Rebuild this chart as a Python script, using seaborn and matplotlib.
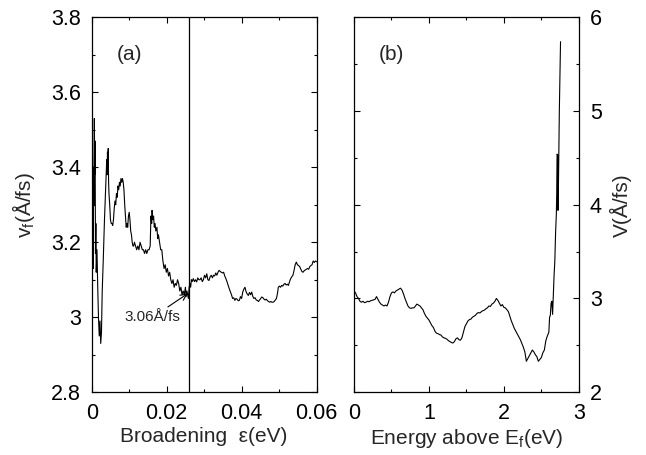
import numpy as np
import pandas as pd
import seaborn as sns
import matplotlib.pyplot as plt
from matplotlib.ticker import MultipleLocator, FormatStrFormatter

# panel (a): Fermi velocity vs broadening
eps_a = [0.0000, 0.0001, 0.0002, 0.0003, 0.0004, 0.0005, 0.0006, 0.0007, 0.0008, 0.0009,
         0.0010, 0.0011, 0.0012, 0.0014, 0.0016, 0.0018, 0.0020, 0.0022, 0.0024, 0.0026,
         0.0028, 0.0031, 0.0034, 0.0037, 0.0040, 0.0041, 0.0042, 0.0043, 0.0044, 0.0045,
         0.0046, 0.0048, 0.0050, 0.0052, 0.0054, 0.0056, 0.0058, 0.0060, 0.0062, 0.0064,
         0.0066, 0.0068, 0.0070, 0.0072, 0.0074, 0.0076, 0.0078, 0.0080, 0.0082, 0.0084,
         0.0086, 0.0088, 0.0090, 0.0092, 0.0094, 0.0096, 0.0098, 0.0100, 0.0102, 0.0104,
         0.0106, 0.0108, 0.0110, 0.0112, 0.0114, 0.0117, 0.0120, 0.0123, 0.0126, 0.0129,
         0.0132, 0.0135, 0.0138, 0.0141, 0.0144, 0.0147, 0.0150, 0.0153, 0.0156, 0.0158,
         0.0160, 0.0161, 0.0163, 0.0165, 0.0167, 0.0169, 0.0171, 0.0174, 0.0176, 0.0178,
         0.0181, 0.0184, 0.0187, 0.0190, 0.0193, 0.0196, 0.0199, 0.0202, 0.0205, 0.0208,
         0.0211, 0.0214, 0.0217, 0.0220, 0.0223, 0.0226, 0.0229, 0.0232, 0.0235, 0.0238,
         0.0241, 0.0244, 0.0247, 0.0250, 0.0252, 0.0254, 0.0256, 0.0258, 0.0260, 0.0262,
         0.0264, 0.0266, 0.0268, 0.0271, 0.0274, 0.0277, 0.0280, 0.0283, 0.0286, 0.0289,
         0.0292, 0.0295, 0.0298, 0.0301, 0.0304, 0.0307, 0.0310, 0.0313, 0.0316, 0.0319,
         0.0322, 0.0325, 0.0328, 0.0331, 0.0334, 0.0337, 0.0340, 0.0343, 0.0346, 0.0349,
         0.0352, 0.0355, 0.0358, 0.0361, 0.0364, 0.0367, 0.0370, 0.0373, 0.0376, 0.0379,
         0.0382, 0.0385, 0.0388, 0.0391, 0.0394, 0.0397, 0.0400, 0.0403, 0.0406, 0.0409,
         0.0412, 0.0415, 0.0418, 0.0421, 0.0424, 0.0427, 0.0430, 0.0433, 0.0436, 0.0439,
         0.0442, 0.0445, 0.0448, 0.0451, 0.0454, 0.0457, 0.0460, 0.0463, 0.0466, 0.0469,
         0.0472, 0.0475, 0.0478, 0.0481, 0.0484, 0.0487, 0.0490, 0.0493, 0.0496, 0.0498,
         0.0501, 0.0504, 0.0507, 0.0510, 0.0513, 0.0516, 0.0519, 0.0522, 0.0525, 0.0528,
         0.0531, 0.0534, 0.0537, 0.0540, 0.0543, 0.0546, 0.0549, 0.0552, 0.0555, 0.0558,
         0.0561, 0.0564, 0.0567, 0.0570, 0.0573, 0.0576, 0.0579, 0.0582, 0.0585, 0.0588,
         0.0591, 0.0594, 0.0597, 0.0600]
vf_a = [3.68, 3.45, 3.53, 3.22, 3.13, 3.40, 3.30, 3.53, 3.38, 3.47,
        3.17, 3.25, 3.12, 3.18, 3.08, 3.00, 2.95, 2.99, 2.93, 2.96,
        3.07, 3.16, 3.26, 3.34, 3.42, 3.38, 3.44, 3.40, 3.45, 3.36,
        3.33, 3.30, 3.26, 3.25, 3.25, 3.245, 3.26, 3.29, 3.31, 3.30,
        3.33, 3.32, 3.35, 3.34, 3.36, 3.35, 3.37, 3.36, 3.37, 3.36,
        3.34, 3.30, 3.27, 3.24, 3.25, 3.24, 3.27, 3.28, 3.26, 3.23,
        3.22, 3.20, 3.19, 3.19, 3.20, 3.19, 3.18, 3.19, 3.18, 3.20,
        3.19, 3.18, 3.18, 3.17, 3.18, 3.17, 3.18, 3.18, 3.19, 3.27,
        3.25, 3.285, 3.26, 3.27, 3.24, 3.25, 3.23, 3.24, 3.21, 3.22,
        3.20, 3.18, 3.18, 3.15, 3.13, 3.14, 3.12, 3.13, 3.11, 3.12,
        3.10, 3.09, 3.10, 3.08, 3.09, 3.085, 3.10, 3.09, 3.07, 3.08,
        3.06, 3.07, 3.06, 3.08, 3.055, 3.07, 3.06, 3.05, 3.08, 3.09,
        3.08, 3.10, 3.095, 3.103, 3.095, 3.10, 3.094, 3.105, 3.10, 3.10,
        3.105, 3.095, 3.10, 3.112, 3.105, 3.116, 3.10, 3.098, 3.108, 3.112,
        3.105, 3.112, 3.11, 3.118, 3.112, 3.12, 3.125, 3.122, 3.12, 3.118,
        3.12, 3.11, 3.103, 3.095, 3.085, 3.076, 3.068, 3.06, 3.05, 3.052,
        3.045, 3.05, 3.048, 3.044, 3.045, 3.055, 3.05, 3.067, 3.075, 3.08,
        3.068, 3.062, 3.058, 3.066, 3.06, 3.067, 3.055, 3.05, 3.052, 3.046,
        3.045, 3.042, 3.046, 3.05, 3.054, 3.052, 3.048, 3.046, 3.048, 3.044,
        3.042, 3.04, 3.042, 3.04, 3.04, 3.042, 3.046, 3.05, 3.065, 3.08,
        3.083, 3.08, 3.085, 3.083, 3.088, 3.09, 3.086, 3.088, 3.085, 3.095,
        3.103, 3.108, 3.112, 3.125, 3.14, 3.147, 3.14, 3.138, 3.135, 3.128,
        3.122, 3.12, 3.124, 3.126, 3.128, 3.13, 3.128, 3.135, 3.138, 3.14,
        3.15, 3.146, 3.15, 3.148]

# panel (b): band velocity vs energy above E_f
energy_b = [0.00, 0.02, 0.04, 0.06, 0.08, 0.10, 0.12, 0.14, 0.16, 0.18,
            0.20, 0.22, 0.24, 0.26, 0.28, 0.30, 0.32, 0.34, 0.36, 0.38,
            0.40, 0.42, 0.44, 0.46, 0.48, 0.50, 0.52, 0.54, 0.56, 0.58,
            0.60, 0.62, 0.64, 0.66, 0.68, 0.70, 0.72, 0.74, 0.76, 0.78,
            0.80, 0.82, 0.84, 0.86, 0.88, 0.90, 0.92, 0.94, 0.96, 0.98,
            1.00, 1.02, 1.04, 1.06, 1.08, 1.10, 1.12, 1.14, 1.16, 1.18,
            1.20, 1.22, 1.24, 1.26, 1.28, 1.30, 1.32, 1.34, 1.36, 1.38,
            1.40, 1.42, 1.44, 1.46, 1.48, 1.50, 1.52, 1.54, 1.56, 1.58,
            1.60, 1.62, 1.64, 1.66, 1.68, 1.70, 1.72, 1.74, 1.76, 1.78,
            1.80, 1.82, 1.84, 1.86, 1.88, 1.90, 1.92, 1.94, 1.96, 1.98,
            2.00, 2.02, 2.04, 2.06, 2.08, 2.10, 2.12, 2.14, 2.16, 2.18,
            2.20, 2.22, 2.24, 2.26, 2.28, 2.30, 2.32, 2.34, 2.36, 2.38,
            2.40, 2.42, 2.44, 2.46, 2.48, 2.50, 2.52, 2.54, 2.56, 2.58,
            2.60, 2.61, 2.62, 2.63, 2.64, 2.65, 2.66, 2.67, 2.68, 2.69,
            2.70, 2.705, 2.71, 2.718, 2.722, 2.728, 2.74, 2.756]
v_b = [3.08, 3.06, 3.02, 3.00, 2.97, 2.96, 2.97, 2.955, 2.96, 2.97,
       2.965, 2.975, 2.98, 2.985, 2.99, 3.02, 2.99, 2.96, 2.94, 2.93,
       2.92, 2.93, 2.92, 2.96, 3.02, 3.06, 3.07, 3.06, 3.08, 3.09,
       3.10, 3.11, 3.09, 3.05, 3.00, 2.96, 2.92, 2.90, 2.895, 2.90,
       2.90, 2.92, 2.94, 2.93, 2.92, 2.90, 2.88, 2.84, 2.81, 2.79,
       2.77, 2.74, 2.71, 2.69, 2.65, 2.63, 2.625, 2.615, 2.61, 2.59,
       2.58, 2.575, 2.565, 2.55, 2.54, 2.53, 2.525, 2.54, 2.57, 2.58,
       2.56, 2.555, 2.58, 2.64, 2.70, 2.73, 2.76, 2.775, 2.78, 2.80,
       2.81, 2.82, 2.84, 2.85, 2.845, 2.86, 2.87, 2.875, 2.89, 2.90,
       2.92, 2.915, 2.94, 2.95, 2.97, 3.00, 2.98, 2.95, 2.92, 2.935,
       2.905, 2.90, 2.88, 2.86, 2.81, 2.76, 2.72, 2.68, 2.65, 2.62,
       2.59, 2.56, 2.52, 2.48, 2.43, 2.33, 2.36, 2.39, 2.42, 2.45,
       2.43, 2.40, 2.38, 2.33, 2.35, 2.37, 2.42, 2.45, 2.55, 2.60,
       2.64, 2.80, 2.82, 2.95, 2.97, 2.83, 3.03, 3.25, 3.40, 3.70,
       3.90, 4.11, 4.54, 4.53, 3.94, 4.20, 5.00, 5.74]

df_a = pd.DataFrame({'eps': eps_a, 'vf': vf_a})
df_b = pd.DataFrame({'E': energy_b, 'V': v_b})

sns.set_style('ticks')
plt.rcParams['font.family'] = ['Liberation Sans', 'DejaVu Sans']
plt.rcParams['mathtext.fontset'] = 'custom'
plt.rcParams['mathtext.rm'] = 'Liberation Sans'

fig = plt.figure(figsize=(6.46, 4.55), dpi=100)
ax1 = fig.add_axes([0.142, 0.138, 0.348, 0.824])
ax2 = fig.add_axes([0.548, 0.138, 0.348, 0.824])

sns.lineplot(data=df_a, x='eps', y='vf', ax=ax1, color='black', lw=0.8,
             sort=False, estimator=None)
sns.lineplot(data=df_b, x='E', y='V', ax=ax2, color='black', lw=0.8,
             sort=False, estimator=None)

ax1.axvline(0.026, color='black', lw=0.9)
ax1.annotate('3.06Å/fs', xy=(0.0256, 3.063), xytext=(0.0088, 3.0),
             fontsize=11, va='center',
             arrowprops=dict(arrowstyle='->', color='black', lw=0.8,
                             shrinkA=0, shrinkB=0))

ax1.set_xlim(0, 0.06)
ax1.set_ylim(2.8, 3.8)
ax1.xaxis.set_major_locator(MultipleLocator(0.02))
ax1.xaxis.set_minor_locator(MultipleLocator(0.01))
ax1.yaxis.set_major_locator(MultipleLocator(0.2))
ax1.yaxis.set_minor_locator(MultipleLocator(0.1))
ax1.xaxis.set_major_formatter(FormatStrFormatter('%g'))
ax1.yaxis.set_major_formatter(FormatStrFormatter('%g'))
ax1.set_xlabel('Broadening  ε(eV)', fontsize=15, labelpad=2)
ax1.set_ylabel(r'v$_\mathregular{f}$(Å/fs)', fontsize=15, labelpad=10)
ax1.text(0.166, 0.9, '(a)', transform=ax1.transAxes, ha='center', va='center', fontsize=15)

ax2.set_xlim(0, 3)
ax2.set_ylim(2, 6)
ax2.xaxis.set_major_locator(MultipleLocator(1))
ax2.xaxis.set_minor_locator(MultipleLocator(0.5))
ax2.yaxis.set_major_locator(MultipleLocator(1))
ax2.yaxis.set_minor_locator(MultipleLocator(0.5))
ax2.xaxis.set_major_formatter(FormatStrFormatter('%g'))
ax2.yaxis.set_major_formatter(FormatStrFormatter('%g'))
ax2.yaxis.tick_right()
ax2.yaxis.set_label_position('right')
ax2.set_xlabel(r'Energy above E$_\mathregular{f}$(eV)', fontsize=15, labelpad=2)
ax2.set_ylabel('V(Å/fs)', fontsize=15, labelpad=6)
ax2.text(0.167, 0.9, '(b)', transform=ax2.transAxes, ha='center', va='center', fontsize=15)

for ax in (ax1, ax2):
    ax.tick_params(which='both', direction='in', top=True, right=True, left=True,
                   bottom=True, labelsize=15.5, width=0.8, colors='black')
    ax.tick_params(which='major', length=4, pad=8)
    ax.tick_params(which='minor', length=2.5)
    for s in ax.spines.values():
        s.set_visible(True)
        s.set_linewidth(0.9)
        s.set_color('black')
ax2.tick_params(which='both', labelleft=False, labelright=True)

fig.savefig('out.png', dpi=100)
